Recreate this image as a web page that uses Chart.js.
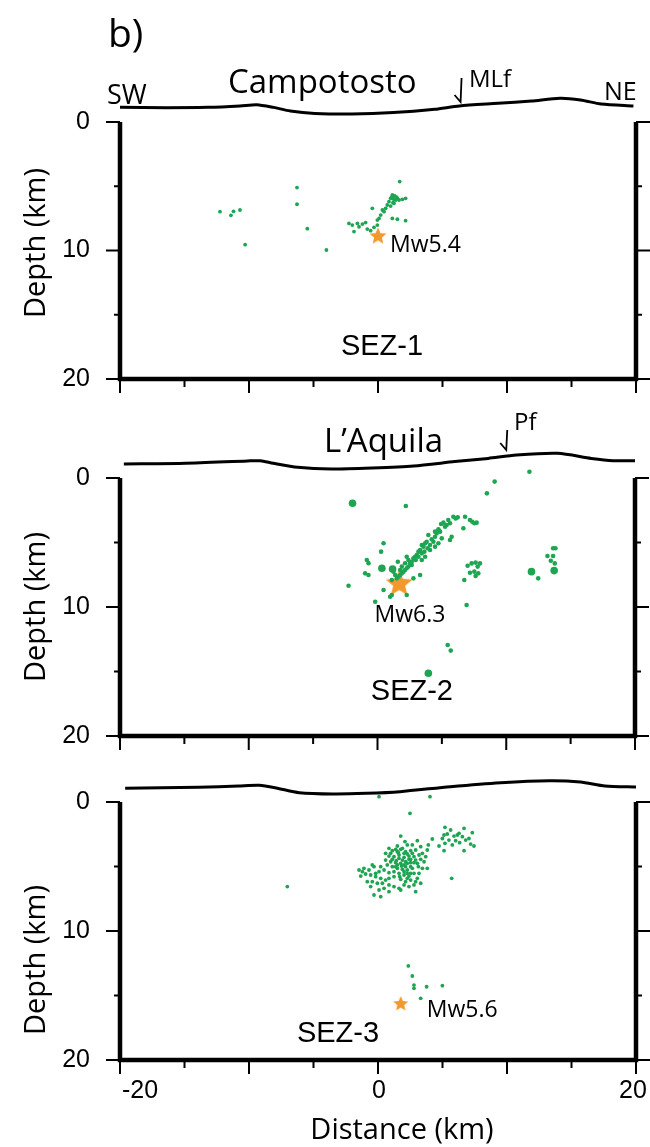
<!DOCTYPE html>
<html>
<head>
<meta charset="utf-8">
<script src="https://cdn.jsdelivr.net/npm/chart.js@4"></script>
<style>
  html, body { margin: 0; padding: 0; background: #fff; }
  #wrap { position: relative; width: 650px; height: 1147px; overflow: hidden; }
  #wrap canvas { position: absolute; left: 0; }
</style>
</head>
<body>
<div id="wrap">
  <canvas id="sez1" width="650" height="400" style="top:0px"></canvas>
  <canvas id="sez2" width="650" height="360" style="top:400px"></canvas>
  <canvas id="sez3" width="650" height="387" style="top:760px"></canvas>
</div>
<script>
// ---------- axes ----------
const distTicks = [-20, -15, -10, -5, 0, 5, 10, 15, 20];
const depthTicks = [0, 5, 10, 15, 20];
const labeledDepths = [0, 10, 20];
const labeledDists = [-20, 0, 20];

// ---------- topography (distance km, elevation km) ----------
const topo1Dist = [-20, -16.4, -13.2, -10.7, -9.4, -8.1, -6.8, -4.9, -2.0, 1.2, 4.4, 6.3, 9.3, 11.9, 14.1, 15.7, 17.3, 19.8];
const topo1Elev = [1.14, 1.11, 1.14, 1.25, 1.35, 1.14, 0.86, 0.67, 0.62, 0.73, 0.99, 1.25, 1.45, 1.63, 1.84, 1.71, 1.40, 1.25];

const topo2Dist = [-19.7, -14.9, -10.1, -9.1, -8.1, -6.2, -3.6, -0.4, 2.8, 6.0, 8.6, 10.8, 14.0, 16.6, 18.3, 20.0];
const topo2Elev = [1.09, 1.14, 1.32, 1.34, 1.14, 0.83, 0.70, 0.78, 0.93, 1.27, 1.52, 1.78, 1.91, 1.52, 1.34, 1.34];

const topo3Dist = [-19.6, -13.9, -10.8, -9.2, -7.9, -6.1, -3.5, -0.9, 1.7, 5.6, 9.5, 13.3, 15.7, 17.6, 20.0];
const topo3Elev = [1.06, 1.14, 1.24, 1.29, 1.09, 0.72, 0.62, 0.67, 0.80, 1.19, 1.50, 1.65, 1.55, 1.24, 1.16];

// ---------- SEZ-1 (Campotosto): [distance km, depth km] ----------
const sez1Events = [
  [-12.25, 6.98], [-11.4, 7.26], [-11.2, 6.95], [-10.7, 6.85], [-10.3, 9.55],
  [-6.28, 5.1], [-6.28, 6.4], [-5.48, 8.3], [-4.0, 9.96],
  [1.68, 4.64], [1.11, 5.68], [1.24, 5.81], [0.98, 5.94], [1.37, 6.07], [0.85, 6.2],
  [1.16, 6.28], [1.5, 5.94], [1.63, 6.07], [1.89, 6.02], [2.14, 5.94], [0.72, 6.46],
  [0.98, 6.54], [1.24, 6.33], [0.59, 6.72], [0.34, 6.85], [0.47, 6.98], [0.21, 7.24],
  [0.08, 7.5], [-0.05, 7.63], [-0.44, 6.72], [-0.05, 8.02], [1.11, 7.5], [1.5, 7.57],
  [2.14, 7.68], [-2.25, 7.89], [-1.99, 8.02], [-1.6, 7.89], [-1.21, 7.94], [-0.96, 7.83],
  [-1.47, 8.15], [-1.86, 8.53], [-0.83, 8.33], [-0.57, 8.46], [-0.31, 8.2],
  [1.3, 5.75], [1.45, 5.85], [1.2, 6.0], [1.05, 5.85]
];
const sez1Main = [0.0, 8.9];

// ---------- SEZ-2 (L'Aquila) ----------
const sez2Events = [
  [2.20, 2.17], [11.8, -0.49], [9.1, 0.28], [8.5, 1.19],
  [5.89, 3.00], [6.07, 3.13], [6.23, 3.05], [5.50, 3.26], [5.12, 3.46], [4.94, 3.57],
  [5.37, 3.64], [6.80, 3.00], [7.18, 3.26], [7.36, 3.39], [7.52, 3.51], [7.70, 3.46],
  [6.67, 3.90], [5.76, 4.55], [5.63, 4.81], [4.86, 4.16], [4.60, 4.29], [4.47, 4.55],
  [4.21, 4.75], [3.95, 4.42], [3.82, 4.94], [3.70, 5.06], [3.57, 5.32], [3.44, 5.19],
  [3.31, 5.58], [3.18, 5.71], [3.05, 5.97], [2.92, 6.10], [2.79, 6.23], [2.66, 6.49],
  [2.53, 6.61], [2.40, 6.87], [2.27, 7.00], [2.14, 7.13], [2.02, 7.26], [1.89, 7.39],
  [1.76, 7.52], [1.63, 7.65], [1.50, 7.78], [4.34, 4.94], [4.08, 5.19], [3.90, 5.45],
  [3.64, 5.71], [3.44, 5.84], [3.18, 6.10], [2.97, 6.36], [2.66, 6.74], [2.40, 6.36],
  [2.27, 6.10], [2.14, 6.61], [1.89, 6.87], [1.76, 7.13], [1.24, 7.26], [1.37, 7.52],
  [1.58, 6.49], [0.47, 5.06], [0.28, 5.71], [1.11, 7.91], [0.47, 8.68], [2.27, 9.07],
  [2.79, 7.78], [3.31, 7.52], [4.73, 5.06], [4.99, 4.68], [4.47, 5.32], [4.08, 5.58],
  [3.70, 6.10], [3.44, 6.36], [4.73, 3.98], [5.25, 3.77], [4.47, 4.16], [5.63, 3.51],
  [-0.83, 6.36], [-0.70, 6.60], [-0.96, 7.39], [-0.70, 7.52], [-2.25, 8.35], [-0.18, 9.59],
  [1.11, 9.07], [0.98, 9.2], [6.92, 9.84], [5.45, 12.95], [5.69, 13.38],
  [7.00, 6.80], [7.31, 6.62], [7.62, 6.56], [7.96, 6.62], [7.78, 6.87], [7.18, 7.34],
  [7.52, 7.26], [7.83, 7.39], [7.62, 7.60], [6.74, 7.91],
  [12.48, 7.78], [13.20, 6.05], [13.64, 6.05], [13.46, 6.41], [13.77, 6.62],
  [13.64, 5.45], [13.82, 5.45]
];
const sez2Large = [[-1.94, 1.96], [0.34, 7.0], [1.17, 7.05], [3.95, 15.14], [11.96, 7.26], [13.72, 7.18]];
const sez2Main = [1.68, 8.2];

// ---------- SEZ-3 ----------
const sez3Events = [
  [0.08, -0.41], [4.03, -0.41], [2.48, 0.88], [-7.03, 6.56], [5.71, 5.92],
  [5.19, 1.96], [5.63, 2.17], [6.67, 2.04], [7.31, 2.38], [5.12, 2.56], [5.37, 2.48],
  [5.89, 2.64], [6.15, 2.56], [6.28, 2.43], [5.50, 2.95], [6.02, 3.00], [6.33, 3.15],
  [6.80, 2.95], [7.18, 3.26], [7.44, 3.41], [4.73, 3.41], [5.19, 3.20], [5.76, 3.33],
  [6.67, 3.77], [5.12, 3.77], [7.05, 2.83], [6.54, 2.69], [4.99, 2.83], [4.21, 2.87],
  [1.76, 2.64], [3.05, 3.00], [2.66, 3.33], [3.31, 3.46], [2.27, 3.33], [1.89, 3.59],
  [1.37, 3.67], [1.11, 3.77], [0.85, 3.59], [1.58, 3.93], [2.14, 3.85], [2.53, 3.77],
  [2.92, 3.72], [3.44, 3.98], [3.82, 3.72], [3.18, 4.11], [2.79, 4.24], [2.40, 4.19],
  [2.02, 4.29], [1.63, 4.37], [1.24, 4.24], [0.85, 4.19], [0.59, 4.50], [0.98, 4.63],
  [1.37, 4.70], [1.76, 4.75], [2.14, 4.63], [2.53, 4.70], [2.92, 4.50], [3.31, 4.44],
  [3.57, 4.63], [3.13, 5.01], [2.66, 5.14], [2.27, 5.27], [1.89, 5.22], [1.50, 5.14],
  [1.11, 5.01], [1.63, 5.53], [2.02, 5.66], [2.40, 5.74], [2.79, 5.53], [3.05, 5.92],
  [2.53, 6.05], [2.14, 6.18], [1.76, 5.99], [1.24, 5.79], [0.85, 5.48], [0.47, 5.27],
  [0.08, 5.40], [-0.31, 5.01], [-0.44, 4.88], [-0.70, 5.27], [-1.09, 5.14], [-1.21, 5.40],
  [-1.34, 5.74], [-0.96, 5.58], [-0.57, 5.66], [-0.18, 5.79], [0.21, 5.92], [0.59, 6.05],
  [-0.44, 6.18], [-0.05, 6.30], [0.34, 6.30], [0.85, 6.43], [1.24, 6.56], [1.63, 6.69],
  [0.47, 6.69], [0.08, 6.82], [0.85, 6.95], [1.76, 6.82], [-0.31, 7.21], [0.21, 7.34],
  [-0.57, 6.56], [-0.83, 6.18], [2.92, 6.95], [3.82, 5.14], [2.40, 6.56], [2.02, 6.43],
  [2.14, 5.01], [1.83, 4.96], [1.42, 4.55], [1.11, 4.44], [2.53, 5.01], [2.92, 6.18],
  [0.85, 5.92], [2.79, 6.43], [2.27, 5.53], [0.72, 4.88], [0.21, 5.01], [-0.18, 5.53],
  [3.18, 5.53], [3.70, 4.24], [3.90, 3.33], [2.02, 3.98], [1.63, 4.11], [2.53, 4.44],
  [2.27, 4.75], [1.89, 4.50], [1.50, 4.88], [1.24, 5.40], [-1.47, 5.27], [0.59, 3.98],
  [0.98, 3.98], [1.50, 3.41], [2.09, 3.07], [3.05, 4.75], [3.44, 5.14], [3.31, 6.30],
  [1.50, 3.85], [2.27, 4.03], [1.76, 3.67], [2.66, 3.98], [1.37, 5.01], [2.02, 4.88],
  [2.40, 4.44], [2.79, 4.70], [1.68, 5.79], [2.27, 5.92], [2.02, 5.40], [2.53, 5.53],
  [2.35, 12.71], [2.66, 13.49], [2.79, 14.19], [2.79, 14.44], [3.77, 14.32], [4.99, 14.24],
  [3.31, 15.22]
];
const sez3Main = [1.76, 15.66];

// ---------- styling ----------
const SANS = '"Open Sans", "Noto Sans", sans-serif';
const HELV = '"Liberation Sans", Arial, sans-serif';
const GREEN = '#1ea552';
const ORANGE = '#f3982a';
const INK = '#000';

function starMarker(r) {
  const c = document.createElement('canvas');
  c.width = c.height = Math.ceil(r * 2 + 2);
  const g = c.getContext('2d');
  const cx = c.width / 2, cy = c.height / 2;
  g.beginPath();
  for (let i = 0; i < 10; i++) {
    const rad = i % 2 ? r * 0.45 : r;
    const a = -Math.PI / 2 + i * Math.PI / 5;
    g.lineTo(cx + rad * Math.cos(a), cy + rad * Math.sin(a));
  }
  g.closePath();
  g.fillStyle = ORANGE;
  g.fill();
  return c;
}

const topoSet = (dist, elev) => ({
  data: dist.map((d, i) => ({ x: d, y: -elev[i] })),
  showLine: true,
  borderColor: INK,
  borderWidth: 3,
  pointRadius: 0,
  tension: 0.25,
  clip: false,
});

const quakeSet = (pts, r) => ({
  data: pts.map(([x, d]) => ({ x: x, y: d })),
  pointRadius: r,
  pointBackgroundColor: GREEN,
  pointBorderWidth: 0,
  borderColor: 'rgba(0,0,0,0)',
  clip: false,
});

const mainshockSet = (pt, r) => ({
  data: [{ x: pt[0], y: pt[1] }],
  pointStyle: starMarker(r),
  pointRadius: r,
  clip: false,
});

// frame, ticks, labels and notes for one section
function sectionFrame(decor) {
  return {
    id: 'sectionFrame',
    afterDatasetsDraw(chart) {
      const ctx = chart.ctx;
      const xs = chart.scales.x, ys = chart.scales.y;
      const left = xs.getPixelForValue(distTicks[0]);
      const right = xs.getPixelForValue(distTicks[distTicks.length - 1]);
      const top = ys.getPixelForValue(depthTicks[0]);
      const bottom = ys.getPixelForValue(depthTicks[depthTicks.length - 1]);

      ctx.save();
      ctx.strokeStyle = '#000';
      ctx.fillStyle = INK;

      // ticks
      ctx.lineWidth = 2;
      ctx.beginPath();
      depthTicks.forEach((v) => {
        const py = ys.getPixelForValue(v);
        const len = v % 10 === 0 ? 14 : 6;
        ctx.moveTo(left, py); ctx.lineTo(left - len, py);
        ctx.moveTo(right, py); ctx.lineTo(right + len, py);
      });
      distTicks.forEach((v) => {
        const px = xs.getPixelForValue(v);
        const len = v % 10 === 0 ? 14 : 8;
        ctx.moveTo(px, bottom); ctx.lineTo(px, bottom + len);
      });
      ctx.stroke();

      // open-top frame
      ctx.lineWidth = 4.5;
      ctx.beginPath();
      ctx.moveTo(left, top);
      ctx.lineTo(left, bottom);
      ctx.lineTo(right, bottom);
      ctx.lineTo(right, top);
      ctx.stroke();

      // depth tick labels
      ctx.font = '25px ' + HELV;
      ctx.textAlign = 'right';
      ctx.textBaseline = 'middle';
      labeledDepths.forEach((v) => ctx.fillText(String(v), left - 30, ys.getPixelForValue(v)));

      // depth title
      ctx.save();
      ctx.translate(37, decor.depthTitleY);
      ctx.rotate(-Math.PI / 2);
      ctx.font = '29px ' + SANS;
      ctx.textAlign = 'center';
      ctx.fillText('Depth (km)', 0, 0);
      ctx.restore();

      // distance labels only under the last section
      if (decor.distAxis) {
        ctx.font = '25px ' + HELV;
        ctx.textAlign = 'center';
        const shift = { '-20': 20, '0': 1, '20': -3 };
        labeledDists.forEach((v) => {
          ctx.fillText(String(v), xs.getPixelForValue(v) + shift[v], decor.distAxis.labelY);
        });
        ctx.font = '29px ' + SANS;
        ctx.textBaseline = 'alphabetic';
        ctx.fillText('Distance (km)', decor.distAxis.titleX, decor.distAxis.titleY);
      }

      // fault marker above the topography
      if (decor.fault) {
        const fx = xs.getPixelForValue(decor.fault.dist);
        ctx.lineWidth = 1.8;
        ctx.beginPath();
        ctx.moveTo(fx + 1, decor.fault.top);
        ctx.lineTo(fx, decor.fault.tip);
        ctx.lineTo(fx - 6, decor.fault.tip - 7);
        ctx.stroke();
      }

      // text notes (pixel or data positioned)
      ctx.textBaseline = 'alphabetic';
      decor.notes.forEach((n) => {
        ctx.font = n.size + 'px ' + (n.helv ? HELV : SANS);
        ctx.textAlign = n.align || 'left';
        const px = n.dist !== undefined ? xs.getPixelForValue(n.dist) : n.px;
        const py = n.depth !== undefined ? ys.getPixelForValue(n.depth) : n.py;
        ctx.fillText(n.text, px, py);
      });
      ctx.restore();
    },
  };
}

function buildSection(canvasId, padding, datasets, decor) {
  return new Chart(document.getElementById(canvasId), {
    type: 'scatter',
    data: { datasets: datasets },
    options: {
      responsive: false,
      animation: false,
      devicePixelRatio: 1,
      events: [],
      layout: { padding: padding },
      scales: {
        x: { type: 'linear', min: -20, max: 20, display: false },
        y: { type: 'linear', min: -2.5, max: 20, reverse: true, display: false },
      },
      plugins: { legend: { display: false }, tooltip: { enabled: false } },
    },
    plugins: [sectionFrame(decor)],
  });
}

buildSection('sez1',
  { left: 120, right: 14, top: 89.875, bottom: 21 },
  [topoSet(topo1Dist, topo1Elev), quakeSet(sez1Events, 1.9), mainshockSet(sez1Main, 9)],
  {
    depthTitleY: 243,
    fault: { dist: 6.4, top: 78, tip: 102 },
    notes: [
      { text: 'b)', px: 108, py: 47, size: 39 },
      { text: 'SW', px: 107, py: 104, size: 27 },
      { text: 'Campotosto', px: 228, py: 93, size: 33 },
      { text: 'MLf', px: 469, py: 87, size: 24 },
      { text: 'NE', px: 604, py: 100, size: 25 },
      { text: 'Mw5.4', dist: 0.93, depth: 10.09, size: 23 },
      { text: 'SEZ-1', dist: 0.31, depth: 18.13, size: 29, helv: true, align: 'center' },
    ],
  });

buildSection('sez2',
  { left: 120, right: 14, top: 45.75, bottom: 24 },
  [topoSet(topo2Dist, topo2Elev), quakeSet(sez2Events, 2.3), quakeSet(sez2Large, 3.8), mainshockSet(sez2Main, 14)],
  {
    depthTitleY: 207,
    fault: { dist: 10.0, top: 30, tip: 50 },
    notes: [
      { text: 'L\u2019Aquila', px: 324, py: 52, size: 33 },
      { text: 'Pf', px: 514, py: 30, size: 24 },
      { text: 'Mw6.3', dist: -0.23, depth: 11.14, size: 23 },
      { text: 'SEZ-2', dist: 2.67, depth: 17.21, size: 29, helv: true, align: 'center' },
    ],
  });

buildSection('sez3',
  { left: 120, right: 14, top: 9.75, bottom: 87 },
  [topoSet(topo3Dist, topo3Elev), quakeSet(sez3Events, 1.9), mainshockSet(sez3Main, 8)],
  {
    depthTitleY: 200,
    distAxis: { labelY: 331, titleX: 402, titleY: 379 },
    notes: [
      { text: 'Mw5.6', dist: 3.78, depth: 16.63, size: 23 },
      { text: 'SEZ-3', dist: -3.1, depth: 18.58, size: 29, helv: true, align: 'center' },
    ],
  });
</script>
</body>
</html>
